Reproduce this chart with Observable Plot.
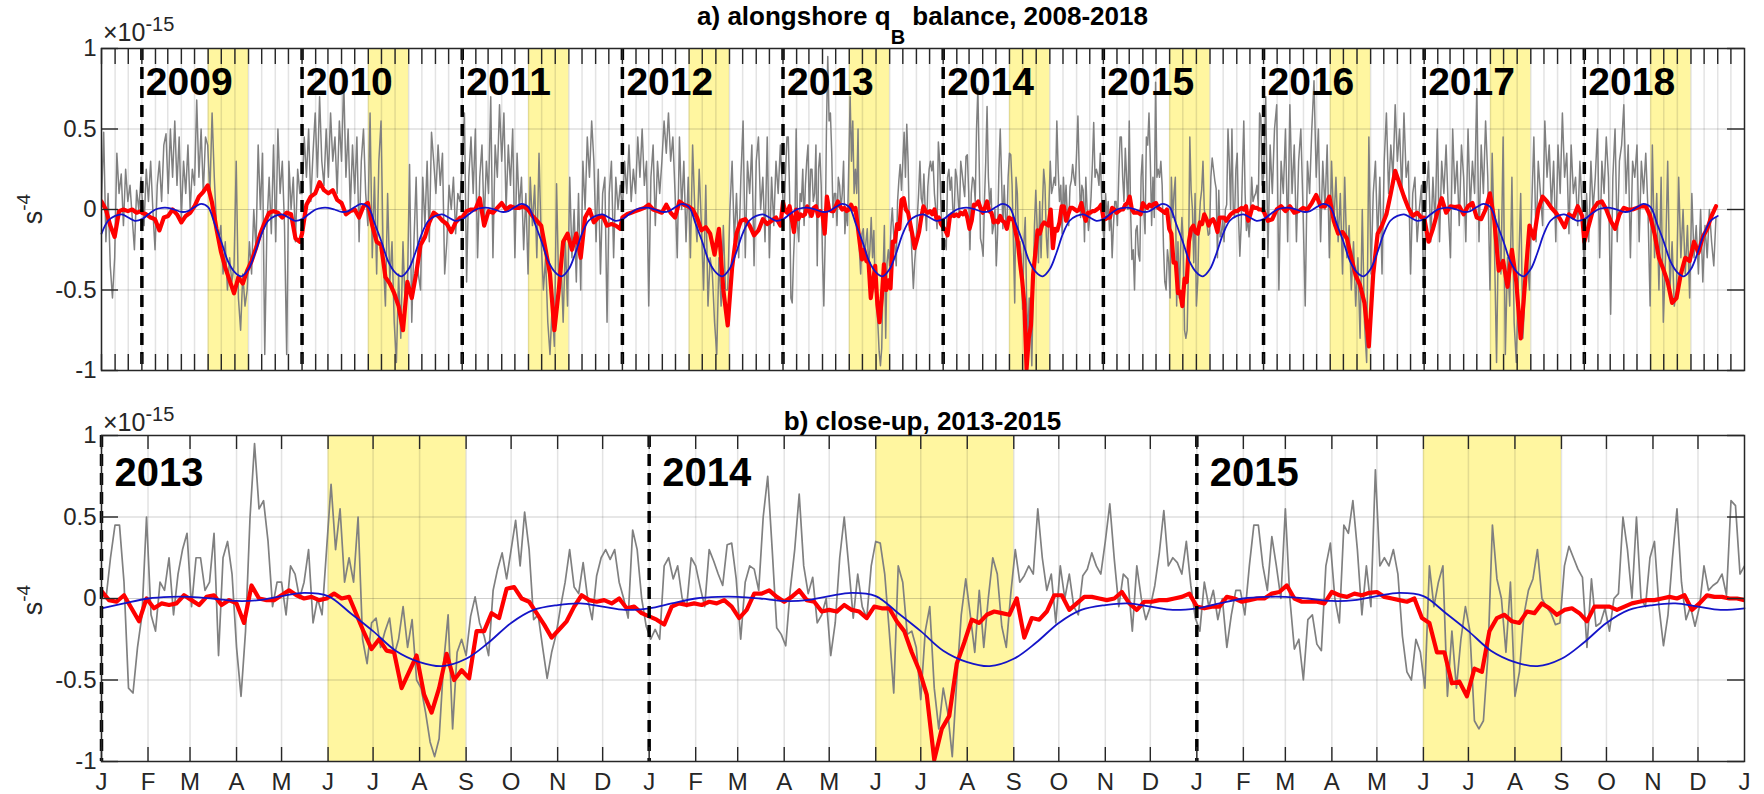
<!DOCTYPE html>
<html>
<head>
<meta charset="utf-8">
<script src="https://cdn.jsdelivr.net/npm/d3@7"></script>
<script src="https://cdn.jsdelivr.net/npm/@observablehq/plot@0.6"></script>
<style>
html, body { margin: 0; padding: 0; background: #ffffff; }
#chart { position: relative; width: 1764px; height: 794px; overflow: hidden; }
#chart svg { display: block; }
</style>
</head>
<body>
<div id="chart"></div>
<script>
// ---------------- DATA (units of 1e-15 s^-4) ----------------
// Seasonal climatology (blue): values on the 1st and 16th of each month, Jan..Dec
const climatology = [-0.06, -0.03, 0.0, 0.01, 0.01, 0.0, -0.015, -0.01, 0.015, 0.035, 0.015, -0.09,
                     -0.2, -0.32, -0.39, -0.415, -0.37, -0.27, -0.15, -0.07, -0.04, -0.03, -0.05, -0.07];

// Daily-ish series (gray), 5-day sampling outside the close-up years
const gray2008 = [0.05, 0.48, -0.2, 0.1, -0.35, -0.55, -0.3, 0.35, 0.1, 0.22, -0.1, 0.25, 0.05, 0.15, -0.05, -0.25, 0.12, 0.0, 0.2];
const gray2009 = [0.1, -0.1, 0.25, 0.05, 0.3, 0.0, -0.25, 0.15, 0.3, 0.05, 0.4, 0.47, 0.1, 0.5, 0.2, 0.55, 0.15, 0.45,
  -0.05, 0.3, 0.1, 0.4, 0.0, 0.25, 0.15, 0.68, 0.2, 0.5, 0.1, 0.45, 0.4, 0.1, 0.6, 0.2, -0.1, -0.2,
  -0.1, -0.4, -0.2, -0.5, -0.3, -0.45, -0.35, 0.3, -0.55, -0.75, -0.4, -0.6, -0.5, -0.2, -0.4, 0.0, -0.25, 0.4,
  0.0, 0.35, -0.9, -0.1, 0.2, -0.15, 0.4, -0.2, 0.5, 0.1, 0.3, -0.1, -0.9, 0.3, 0.0, 0.2, -0.2, 0.25, 0.1];
const gray2010 = [0.1, 0.45, 0.2, 0.5, 0.05, 0.35, 0.6, 0.2, 0.7, 0.3, 0.15, 0.5, 0.2, 0.6, 0.3, 0.45, 0.1, 0.55,
  0.3, 0.8, 0.2, 0.5, 0.0, 0.4, 0.1, 0.45, -0.2, 0.3, 0.5, 0.1, -0.1, 0.6, -0.3, 0.2, -0.4, 0.3,
  0.55, -0.3, -0.6, 0.1, -0.45, -0.2, -0.7, -0.95, -0.4, -0.8, -0.2, -0.6, -0.5, 0.28, -0.7, -0.2, 0.2, -0.4,
  -0.5, 0.2, -0.1, 0.3, -0.2, 0.48, 0.3, 0.1, 0.4, 0.15, 0.35, -0.4, -0.2, 0.15, 0.0, 0.2, -0.15, 0.1, 0.05];
const gray2011 = [0.3, 0.6, -0.45, 0.2, 0.45, 0.1, 0.5, -0.3, 0.2, 0.4, -0.1, 0.3, 0.1, 0.7, -0.3, 0.4, 0.2, 0.65,
  0.3, 0.6, 0.0, 0.4, 0.15, 0.5, -0.3, 0.35, 0.0, 0.2, -0.25, 0.1, -0.4, 0.2, -0.1, 0.15, -0.3, 0.35,
  -0.2, -0.5, -0.3, -0.7, -0.9, -0.6, -0.85, 0.16, -0.5, -0.3, -0.7, -0.2, -0.6, 0.2, -0.3, 0.0, -0.45, 0.1,
  -0.5, 0.3, 0.0, 0.45, 0.2, 0.55, 0.3, -0.2, 0.25, -0.4, 0.1, 0.2, -0.7, 0.1, 0.3, -0.3, 0.2, 0.0, 0.15];
const gray2012 = [0.0, 0.3, 0.1, 0.4, 0.05, 0.25, 0.1, 0.45, 0.2, 0.5, 0.15, 0.3, -0.6, 0.2, 0.4, -0.1, 0.3, 0.1,
  0.3, 0.55, 0.35, 0.6, 0.3, 0.45, 0.1, -0.3, 0.45, 0.0, 0.3, -0.2, 0.2, -0.3, 0.4, 0.0, -0.2, 0.25,
  -0.1, -0.5, 0.15, -0.6, -0.3, -0.4, -0.7, -0.9, -0.3, -0.6, -0.1, -0.5, -0.5, 0.0, 0.3, -0.2, 0.1, -0.3,
  0.2, 0.55, -0.3, 0.3, 0.1, 0.4, -0.35, 0.3, 0.45, 0.0, 0.2, -0.2, 0.45, -0.3, 0.2, -0.1, 0.3, 0.1, 0.4];
// Close-up years 2013-2015, 3-day sampling (shared by both panels)
const grayB = [0.05, 0.0, 0.25, 0.45, 0.45, 0.1, -0.55, -0.58, -0.3, -0.1,
  0.5, -0.1, -0.2, 0.1, 0.05, 0.25, -0.1, 0.15, 0.3, 0.4,
  -0.05, 0.25, 0.25, 0.05, 0.1, 0.4, -0.35, 0.25, 0.35, 0.15,
  -0.3, -0.6, -0.2, 0.5, 0.95, 0.55, 0.6, 0.35, -0.05, 0.1,
  0.1, -0.1, 0.2, 0.15, 0.0, 0.1, 0.3, -0.15, 0.0, -0.1,
  0.3, 0.7, 0.3, 0.55, 0.1, 0.25, 0.1, 0.5, -0.25, -0.4,
  -0.15, -0.12, -0.3, -0.2, -0.12, -0.35, -0.25, -0.05, -0.3, -0.13,
  -0.5, -0.55, -0.7, -0.88, -0.97, -0.86, -0.4, -0.1, -0.8, -0.33,
  -0.25, -0.35, -0.11, 0.01, -0.15, -0.23, -0.35, 0.05, 0.18, 0.28,
  0.12, 0.3, 0.48, 0.2, 0.53, 0.3, -0.13, -0.1, -0.3, -0.49,
  -0.33, -0.22, -0.05, 0.1, 0.3, 0.07, 0.03, 0.22, 0.0, -0.13,
  0.14, 0.25, 0.3, 0.24, 0.3, 0.1, 0.0, -0.12, 0.42, 0.3,
  0.0, -0.17, -0.25, -0.19, -0.25, 0.2, 0.25, 0.12, 0.2, 0.0,
  -0.05, 0.25, 0.2, 0.07, -0.05, 0.3, 0.23, 0.15, 0.08, 0.33,
  0.34, 0.12, -0.25, 0.1, 0.2, 0.18, 0.05, 0.5, 0.75, 0.3,
  -0.18, -0.22, -0.29, 0.05, 0.3, 0.64, 0.2, 0.03, 0.13, -0.15,
  -0.1, 0.0, -0.35, -0.15, 0.25, 0.5, 0.2, -0.12, 0.15, -0.05,
  -0.12, 0.2, 0.35, 0.34, 0.15, -0.2, -0.58, 0.2, 0.1, -0.22,
  -0.2, -0.3, -0.62, -0.2, -0.05, -0.55, -0.8, -0.55, -0.7, -0.97,
  -0.5, -0.1, 0.12, -0.1, -0.33, 0.05, -0.3, 0.0, 0.25, 0.15,
  -0.17, -0.3, 0.03, 0.3, 0.1, 0.14, 0.2, 0.15, 0.55, 0.25,
  0.05, 0.15, -0.15, 0.2, 0.0, 0.15, -0.05, -0.1, 0.14, 0.18,
  0.28, 0.2, 0.15, 0.35, 0.58, 0.24, -0.05, 0.15, 0.12, -0.2,
  0.2, 0.0, -0.13, -0.05, 0.08, 0.28, 0.54, 0.2, 0.25, 0.22,
  0.15, 0.35, 0.08, -0.12, -0.2, 0.1, -0.05, 0.05, -0.13, 0.0,
  -0.3, -0.1, 0.05, 0.05, -0.1, 0.2, 0.45, 0.45, 0.2, 0.05,
  0.38, 0.2, 0.0, 0.55, 0.0, -0.31, -0.25, -0.5, -0.13, -0.1,
  -0.28, -0.32, 0.2, 0.34, 0.0, -0.15, 0.45, 0.4, 0.6, 0.3,
  -0.1, 0.2, -0.05, 0.79, 0.2, 0.25, 0.2, 0.3, 0.15, -0.23,
  -0.45, -0.5, -0.25, -0.33, -0.55, 0.2, -0.05, 0.1, 0.2, -0.6,
  -0.2, -0.55, -0.25, -0.05, -0.2, -0.75, -0.8, -0.75, -0.35, 0.45,
  0.12, 0.0, -0.33, 0.1, -0.6, -0.45, -0.1, 0.05, 0.12, 0.3,
  0.0, -0.05, -0.09, -0.16, -0.15, 0.2, 0.32, 0.25, 0.18, 0.13,
  -0.3, 0.12, -0.17, -0.15, -0.06, -0.2, 0.0, 0.03, 0.5, 0.3,
  0.0, 0.5, 0.0, -0.05, 0.25, 0.35, -0.05, -0.29, -0.1, 0.25,
  0.55, 0.1, -0.13, -0.05, -0.17, -0.05, 0.2, 0.05, 0.08, 0.1,
  0.15, 0.02, 0.6, 0.57, 0.15];
const gray2016 = [0.2, 0.7, -0.3, 0.4, 0.1, 0.5, 0.65, -0.5, 0.3, 0.1, 0.5, -0.2, 0.65, 0.1, 0.4, -0.2, 0.3, 0.5,
  0.0, -0.6, 0.3, 0.1, 0.5, 0.8, 0.2, 0.5, -0.2, 0.3, 0.0, 0.4, -0.3, 0.3, -0.1, 0.2, -0.2, 0.1,
  -0.4, 0.2, -0.3, -0.1, -0.5, -0.2, -0.6, -0.3, -0.8, 0.0, -0.7, -0.95, 0.45, -0.4, 0.1, 0.3, -0.2, 0.2,
  -0.4, 0.3, 0.6, 0.1, 0.4, 0.2, 0.65, 0.3, 0.5, 0.1, 0.6, 0.2, 0.3, -0.4, 0.1, 0.2, -0.2, 0.0, 0.15];
const gray2017 = [-0.6, 0.1, 0.3, -0.2, 0.2, -0.1, 0.5, -0.2, 0.3, 0.1, 0.4, 0.0, -0.3, 0.5, 0.1, 0.3, -0.1, 0.4,
  0.2, -0.2, 0.5, 0.0, 0.3, 0.1, 0.75, -0.2, 0.4, 0.1, 0.55, 0.2, -0.5, 0.35, -0.2, -0.95, 0.0, -0.4,
  0.45, -0.9, -0.3, -0.6, 0.2, -0.7, -0.95, -0.4, 0.1, -0.8, -0.5, -0.3, -0.5, 0.0, 0.45, -0.2, 0.3, 0.1,
  -0.1, 0.55, 0.2, 0.4, 0.0, 0.3, -0.2, 0.4, 0.1, 0.6, 0.2, 0.35, -0.15, 0.4, 0.1, 0.2, -0.1, 0.3, 0.0];
const gray2018 = [-0.4, 0.1, -0.2, 0.3, 0.0, 0.2, 0.5, -0.3, 0.3, 0.1, 0.45, 0.2, -0.65, 0.2, 0.5, -0.2, 0.3, 0.4,
  0.65, 0.1, 0.4, -0.3, 0.3, 0.2, 0.4, -0.2, 0.3, 0.1, 0.35, 0.0, -0.6, 0.4, -0.3, 0.1, -0.5, 0.2,
  -0.7, -0.3, 0.3, -0.5, -0.2, -0.6, -0.5, 0.2, -0.3, 0.0, -0.4, -0.1, -0.55, 0.1, -0.3, -0.1, -0.4, 0.0,
  -0.45, -0.1, -0.3, 0.0, -0.2, -0.35, -0.05];

// Smoothed series (red), 10-day sampling outside the close-up years
const red2008 = [0.05, 0.0, -0.1, -0.17, -0.01, 0.0, -0.01, 0.0, -0.02, -0.01];
const red2009 = [-0.02, -0.03, -0.05, -0.06, -0.13, -0.05, -0.04, 0.0, -0.03, -0.08, -0.04, -0.02, 0.02, 0.08, 0.11, 0.15, 0.04, -0.12, -0.26,
  -0.36, -0.44, -0.52, -0.42, -0.46, -0.38, -0.32, -0.24, -0.15, -0.08, -0.02, -0.01, -0.02, -0.05, -0.02, -0.03, -0.18, -0.2];
const red2010 = [-0.15, 0.03, 0.08, 0.1, 0.17, 0.12, 0.1, 0.12, 0.06, 0.04, -0.03, -0.01, 0.0, -0.05, 0.02, 0.04, -0.1, -0.2, -0.22,
  -0.42, -0.46, -0.52, -0.6, -0.75, -0.45, -0.55, -0.4, -0.22, -0.17, -0.08, -0.02, -0.04, -0.07, -0.09, -0.14, -0.08, -0.05];
const red2011 = [-0.05, -0.01, 0.0, 0.0, 0.07, -0.1, -0.01, -0.02, 0.01, 0.04, 0.0, 0.02, 0.01, 0.01, 0.02, 0.0, -0.04, -0.07, -0.1,
  -0.25, -0.4, -0.75, -0.5, -0.2, -0.15, -0.25, -0.15, -0.3, -0.05, 0.0, -0.08, -0.05, -0.04, -0.1, -0.09, -0.1, -0.12];
const red2012 = [-0.05, -0.03, -0.02, -0.01, 0.0, 0.01, 0.03, 0.0, -0.01, -0.02, 0.03, -0.02, -0.05, 0.05, 0.03, 0.02, 0.0, -0.05, -0.13,
  -0.11, -0.15, -0.28, -0.12, -0.5, -0.72, -0.36, -0.15, -0.07, -0.06, -0.1, -0.16, -0.13, -0.06, -0.09, -0.07, -0.05, -0.1];
// Close-up years 2013-2015, 5-day sampling (shared by both panels)
const redB = [0.045, -0.01, -0.02, 0.02, -0.06, -0.14, 0.0, -0.06, -0.03, -0.04,
  -0.03, 0.02, -0.01, -0.04, 0.01, 0.02, -0.04, -0.01, -0.03, -0.15,
  0.08, 0.0, -0.01, -0.01, 0.02, 0.05, 0.02, 0.0, 0.01, -0.01,
  0.0, 0.03, 0.0, 0.01, -0.1, -0.21, -0.31, -0.25, -0.32, -0.33,
  -0.55, -0.45, -0.35, -0.59, -0.7, -0.55, -0.34, -0.5, -0.44, -0.49,
  -0.2, -0.2, -0.09, -0.12, 0.06, 0.07, 0.0, -0.02, -0.09, -0.16,
  -0.24, -0.19, -0.14, -0.05, 0.02, -0.01, -0.02, -0.01, -0.03, 0.0,
  -0.06, -0.05, -0.09, -0.11, -0.13, -0.16, -0.05, -0.03, -0.04, -0.03,
  -0.04, -0.02, -0.03, -0.01, -0.05, -0.12, -0.07, 0.03, 0.03, 0.05,
  0.01, -0.02, 0.01, 0.05, -0.01, -0.02, -0.08, -0.07, -0.08, -0.04,
  -0.07, -0.08, -0.12, -0.05, -0.06, -0.06, -0.14, -0.2, -0.33, -0.44,
  -0.59, -0.99, -0.8, -0.72, -0.4, -0.27, -0.13, -0.15, -0.1, -0.08,
  -0.09, -0.1, 0.0, -0.24, -0.12, -0.13, -0.08, 0.02, 0.02, -0.07,
  -0.03, 0.01, 0.01, 0.0, -0.01, 0.0, 0.04, -0.03, -0.07, -0.02,
  -0.02, -0.01, -0.01, 0.0, 0.01, 0.03, -0.05, -0.06, -0.05, -0.05,
  0.01, 0.0, -0.02, -0.01, 0.0, 0.0, 0.03, 0.04, 0.08, 0.0,
  -0.02, -0.02, -0.02, -0.03, 0.04, 0.02, 0.01, 0.03, 0.02, 0.035,
  0.04, 0.01, 0.0, -0.01, -0.02, 0.0, -0.12, -0.15, -0.33, -0.33,
  -0.52, -0.51, -0.6, -0.43, -0.45, -0.2, -0.12, -0.1, -0.14, -0.15,
  -0.08, -0.09, -0.03, -0.06, -0.1, -0.07, -0.06, -0.09, -0.14, -0.05,
  -0.05, -0.05, -0.07, -0.05, -0.03, -0.02, -0.01, -0.01, 0.0, 0.01,
  0.0, 0.02, -0.07, -0.03, 0.02, 0.01, 0.01, 0.0, 0.0];
const red2016 = [-0.01, -0.07, -0.06, 0.0, 0.02, -0.01, 0.02, -0.02, -0.01, 0.01, 0.0, 0.04, 0.09, 0.02, 0.02, 0.08, -0.07, -0.15, -0.14,
  -0.18, -0.3, -0.41, -0.47, -0.58, -0.85, -0.4, -0.15, -0.1, -0.03, 0.1, 0.24, 0.16, 0.08, 0.01, -0.04, -0.02, -0.05];
const red2017 = [-0.05, -0.2, -0.12, -0.02, 0.07, -0.02, 0.02, 0.015, 0.02, -0.03, 0.02, 0.04, -0.05, -0.06, 0.0, 0.1, -0.07, -0.38, -0.32,
  -0.48, -0.25, -0.45, -0.8, -0.45, -0.1, -0.18, 0.0, 0.08, 0.05, 0.01, -0.02, -0.06, -0.11, -0.03, -0.05, 0.02, -0.04];
const red2018 = [-0.2, -0.1, 0.0, 0.04, 0.05, 0.0, -0.07, -0.12, -0.03, 0.01, 0.0, 0.0, 0.01, 0.02, 0.02, -0.04,
  -0.15, -0.3, -0.37, -0.45, -0.58, -0.55, -0.4, -0.3, -0.32, -0.2, -0.27, -0.17, -0.12, -0.04, 0.02];

// Labels / categories
const yearsA = [2009, 2010, 2011, 2012, 2013, 2014, 2015, 2016, 2017, 2018];
const yearsB = [2013, 2014, 2015];
const summerMonths = [5, 8]; // June 1 to September 1 (0-based months)
const yTicks = [-1, -0.5, 0, 0.5, 1];
const monthLetters = ["J", "F", "M", "A", "M", "J", "J", "A", "S", "O", "N", "D"];

// ---------------- BUILD ----------------
const utc = (y, m, d = 1) => new Date(Date.UTC(y, m, d));
const DAY = 864e5;
const seq = (start, step, values) => values.map((v, i) => ({date: new Date(+start + i * step * DAY), v}));

const grayAll = [
  ...seq(utc(2008, 9, 1), 5, gray2008), ...seq(utc(2009, 0, 1), 5, gray2009), ...seq(utc(2010, 0, 1), 5, gray2010),
  ...seq(utc(2011, 0, 1), 5, gray2011), ...seq(utc(2012, 0, 1), 5, gray2012), ...seq(utc(2013, 0, 1), 3, grayB),
  ...seq(utc(2016, 0, 1), 5, gray2016), ...seq(utc(2017, 0, 1), 5, gray2017), ...seq(utc(2018, 0, 1), 5, gray2018)
];
const redAll = [
  ...seq(utc(2008, 9, 1), 10, red2008), ...seq(utc(2009, 0, 1), 10, red2009), ...seq(utc(2010, 0, 1), 10, red2010),
  ...seq(utc(2011, 0, 1), 10, red2011), ...seq(utc(2012, 0, 1), 10, red2012), ...seq(utc(2013, 0, 1), 5, redB),
  ...seq(utc(2016, 0, 1), 10, red2016), ...seq(utc(2017, 0, 1), 10, red2017), ...seq(utc(2018, 0, 1), 10, red2018)
];
const blueAll = [];
for (let y = 2008; y <= 2018; y++) climatology.forEach((v, k) => blueAll.push({date: utc(y, Math.floor(k / 2), k % 2 ? 16 : 1), v}));
blueAll.push({date: utc(2019, 0, 1), v: climatology[0]});

const domA = [utc(2008, 9, 1), utc(2019, 0, 1)];
const domB = [utc(2013, 0, 1), utc(2016, 0, 1)];
const inDom = (dom) => (d) => d.date >= dom[0] && d.date <= dom[1];

const FONT = "'Liberation Sans', Arial, Helvetica, sans-serif";
const AX = "#262626";
const YELLOW = "#fff6a0";
const GRAY = "#808080";
const RED = "#ff0000";
const BLUE = "#1414c8";
const W = 1764, ML = 101, MR = 20;
const FW = W - ML - MR;
const TICKFONT = 24;

function panel({dom, height, mt, mb, years, tickLen, labelDx, labelDy, labelSize, xLabels, grayWidth, blueEnd}) {
  const months = d3.utcMonth.range(dom[0], dom[1]);
  const monthsAll = d3.utcMonth.range(dom[0], new Date(+dom[1] + DAY));
  const FH = height - mt - mb;
  const yearDates = years.map(y => utc(y, 0, 1));
  const summers = years.map(y => ({x1: utc(y, summerMonths[0], 1), x2: utc(y, summerMonths[1], 1)}));
  const marks = [
    Plot.rect(summers, {x1: "x1", x2: "x2", y1: -1, y2: 1, fill: YELLOW}),
    Plot.ruleX(months, {x: d => d, stroke: AX, strokeOpacity: 0.13, strokeWidth: 1.5}),
    Plot.ruleY([-0.5, 0, 0.5], {stroke: AX, strokeOpacity: 0.22, strokeWidth: 1.2}),
    Plot.line(grayAll.filter(inDom(dom)), {x: "date", y: "v", stroke: GRAY, strokeWidth: grayWidth, clip: true}),
    Plot.line(redAll.filter(inDom(dom)), {x: "date", y: "v", stroke: RED, strokeWidth: 4.2, strokeLinejoin: "round", clip: true}),
    Plot.line(blueAll.filter(d => d.date >= dom[0] && d.date <= blueEnd), {x: "date", y: "v", stroke: BLUE, strokeWidth: 1.8, curve: "catmull-rom"}),
    Plot.ruleX(yearDates, {x: d => d, stroke: "#000", strokeWidth: 3.5, strokeDasharray: "12,7"}),
    Plot.text(yearDates, {x: d => d, frameAnchor: "top", text: d => String(d.getUTCFullYear()), textAnchor: "start",
      lineAnchor: "top", dx: labelDx, dy: labelDy, fontSize: labelSize, fontWeight: "bold", fill: "#000"}),
    Plot.tickX(months, {x: d => d, stroke: AX, strokeWidth: 1.4, insetBottom: FH - tickLen}),
    Plot.tickX(months, {x: d => d, stroke: AX, strokeWidth: 1.4, insetTop: FH - tickLen}),
    Plot.tickY(yTicks, {y: d => d, stroke: AX, strokeWidth: 1.4, insetRight: FW - 17}),
    Plot.tickY(yTicks, {y: d => d, stroke: AX, strokeWidth: 1.4, insetLeft: FW - 17}),
    Plot.axisY(yTicks, {anchor: "left", tickSize: 0, tickPadding: 5, tickFormat: d => String(d), fontSize: TICKFONT, fill: AX, label: null}),
    Plot.frame({stroke: AX, strokeWidth: 1.5})
  ];
  if (xLabels) {
    marks.push(Plot.axisX(monthsAll, {anchor: "bottom", tickSize: 0, tickPadding: 11,
      tickFormat: d => monthLetters[d.getUTCMonth()], fontSize: TICKFONT, fill: AX, label: null}));
  }
  return Plot.plot({
    width: W, height, marginTop: mt, marginBottom: mb, marginLeft: ML, marginRight: MR,
    style: {fontFamily: FONT, fontSize: TICKFONT + "px", color: AX, background: "transparent", overflow: "visible"},
    x: {type: "utc", domain: dom, axis: null},
    y: {domain: [-1, 1], axis: null},
    marks
  });
}

const svgA = panel({dom: domA, height: 400, mt: 48, mb: 30, years: yearsA, tickLen: 16, labelDx: 4, labelDy: 19,
  labelSize: 39, xLabels: false, grayWidth: 1.5, blueEnd: utc(2018, 10, 1)});
const svgB = panel({dom: domB, height: 394, mt: 35, mb: 33, years: yearsB, tickLen: 14, labelDx: 13, labelDy: 22,
  labelSize: 40, xLabels: true, grayWidth: 1.7, blueEnd: domB[1]});

const chart = document.getElementById("chart");
chart.appendChild(svgA);
chart.appendChild(svgB);

function annotate(svg, {title, sub, rest, titleY, expY, ylabY}) {
  const s = d3.select(svg);
  const t = s.append("text").attr("x", ML + FW / 2).attr("y", titleY).attr("text-anchor", "middle")
    .attr("font-family", FONT).attr("font-weight", "bold").attr("font-size", 26).attr("fill", "#000");
  t.append("tspan").text(title);
  if (sub) {
    t.append("tspan").attr("dy", 19).attr("font-size", 20).text(sub);
    t.append("tspan").attr("dy", -19).text(rest);
  }
  const e = s.append("text").attr("x", 103).attr("y", expY).attr("text-anchor", "start")
    .attr("font-family", FONT).attr("font-size", 25).attr("fill", AX);
  e.append("tspan").text("×10");
  e.append("tspan").attr("dy", -10).attr("font-size", 20).text("-15");
  const l = s.append("text").attr("transform", `translate(42,${ylabY}) rotate(-90)`).attr("text-anchor", "middle")
    .attr("font-family", FONT).attr("font-size", 27).attr("fill", AX);
  l.append("tspan").text("s");
  l.append("tspan").attr("dy", -12).attr("font-size", 19).text("-4");
}
annotate(svgA, {title: "a) alongshore q", sub: "B", rest: " balance, 2008-2018", titleY: 25, expY: 41, ylabY: 209});
annotate(svgB, {title: "b) close-up, 2013-2015", titleY: 30, expY: 31, ylabY: 200});
</script>
</body>
</html>
